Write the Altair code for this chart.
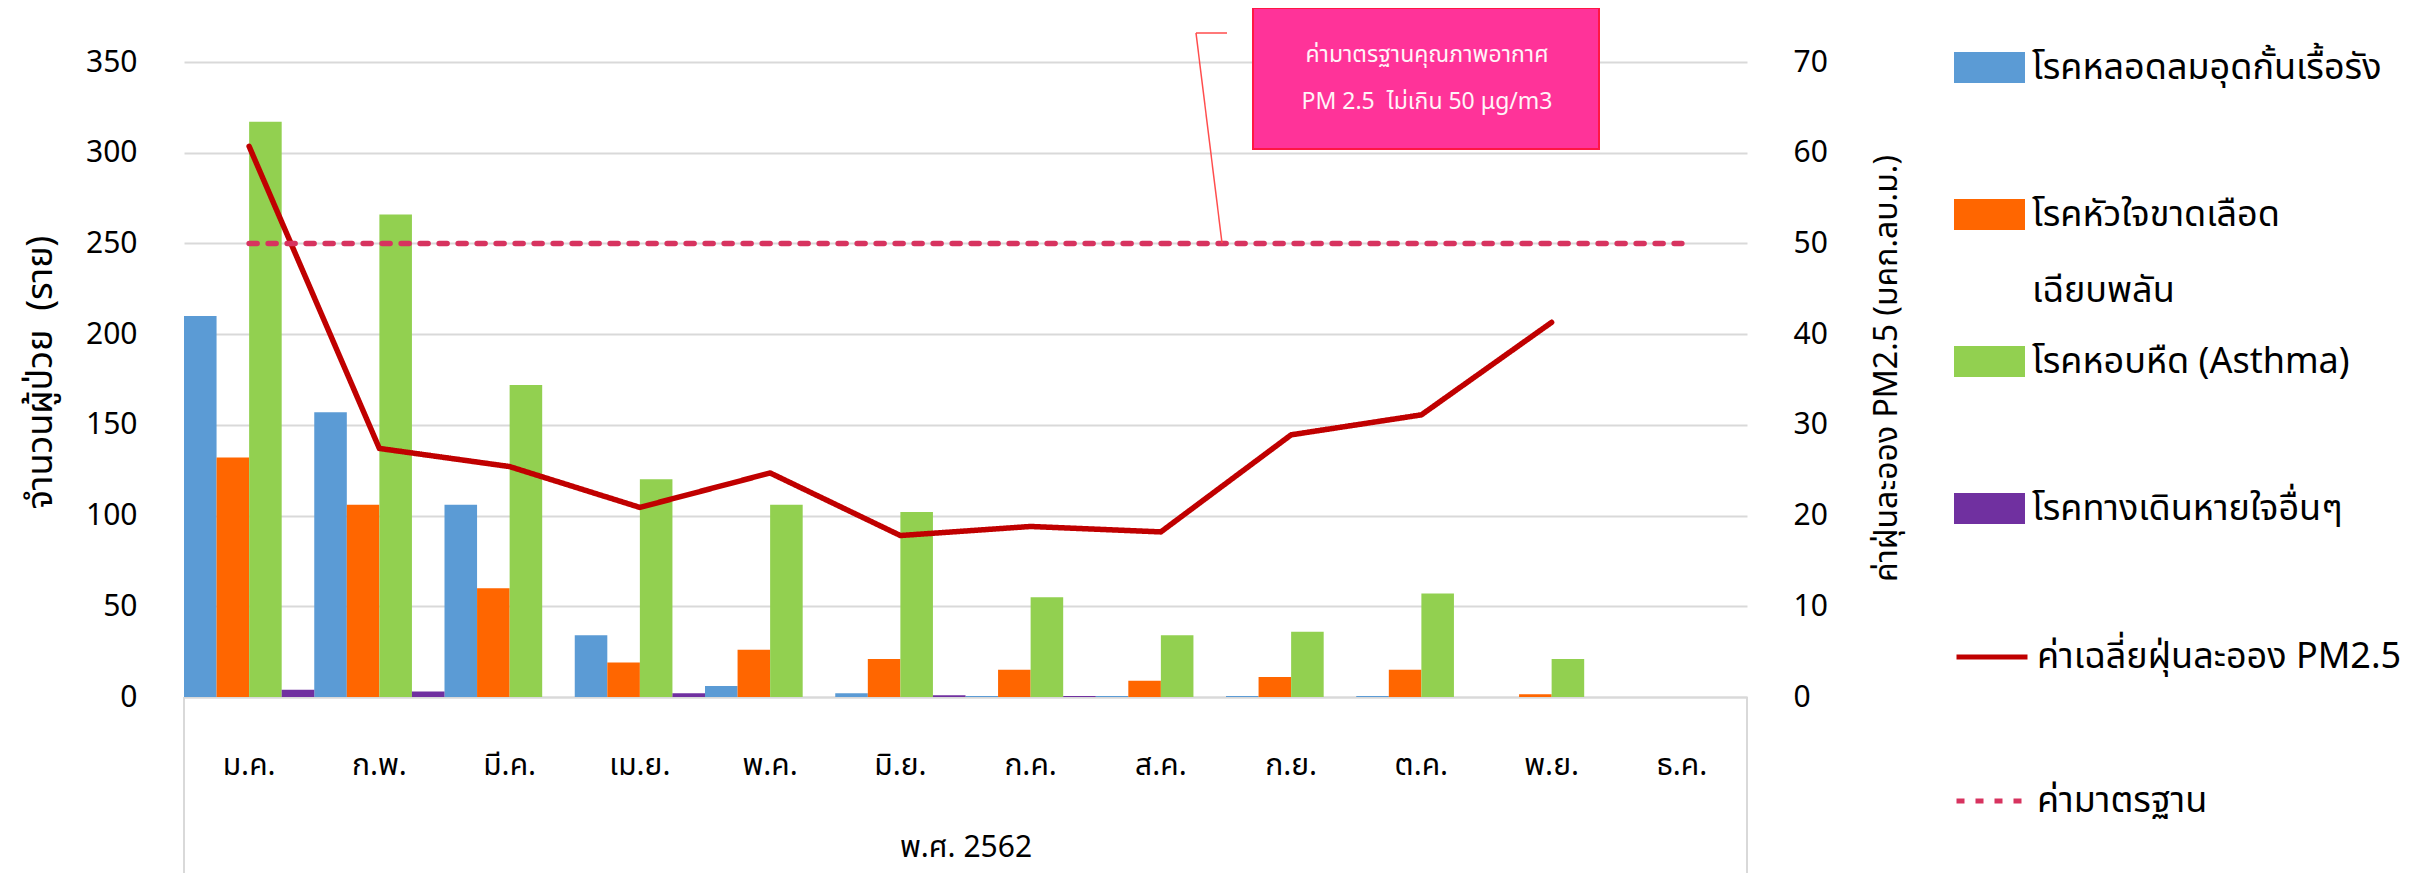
import altair as alt
import pandas as pd

# ---------------- data ----------------
months = ["ม.ค.", "ก.พ.", "มี.ค.", "เม.ย.", "พ.ค.", "มิ.ย.", "ก.ค.", "ส.ค.", "ก.ย.", "ต.ค.", "พ.ย.", "ธ.ค."]
series_names = ["โรคหลอดลมอุดกั้นเรื้อรัง", "โรคหัวใจขาดเลือดเฉียบพลัน", "โรคหอบหืด (Asthma)", "โรคทางเดินหายใจอื่นๆ"]
copd = [210, 157, 106, 34, 6, 2, 0.5, 0.5, 0.5, 0.5, 0, 0]
ihd = [132, 106, 60, 19, 26, 21, 15, 9, 11, 15, 1.5, 0]
asthma = [317, 266, 172, 120, 106, 102, 55, 34, 36, 57, 21, 0]
other = [4, 3, 0, 2, 0, 1, 0.5, 0, 0, 0, 0, 0]

pm_name = "ค่าเฉลี่ยฝุ่นละออง PM2.5"
std_name = "ค่ามาตรฐาน"
pm_months = ["ม.ค.", "ก.พ.", "มี.ค.", "เม.ย.", "พ.ค.", "มิ.ย.", "ก.ค.", "ส.ค.", "ก.ย.", "ต.ค.", "พ.ย."]
pm25 = [60.7, 27.4, 25.4, 20.9, 24.7, 17.8, 18.8, 18.2, 28.9, 31.1, 41.3]
standard = [50, 50, 50, 50, 50, 50, 50, 50, 50, 50, 50, 50]

left_ticks = [0, 50, 100, 150, 200, 250, 300, 350]
right_ticks = [0, 10, 20, 30, 40, 50, 60, 70]

bar_colors = ["#5B9BD5", "#FF6600", "#92D050", "#7030A0"]
line_colors = ["#C00000", "#D7335F"]

note_line1 = "ค่ามาตรฐานคุณภาพอากาศ"
note_line2 = "PM 2.5\u00a0\u00a0ไม่เกิน 50 μg/m3"
left_title = "จำนวนผู้ป่วย\u00a0\u00a0(ราย)"
right_title = "ค่าฝุ่นละออง PM2.5 (มคก.ลบ.ม.)"
x_title = "พ.ศ. 2562"

# ---------------- tables ----------------
bar_rows = []
for s, vals in zip(series_names, [copd, ihd, asthma, other]):
    for m, v in zip(months, vals):
        bar_rows.append({"month": m, "series": s, "value": v})
bars_df = pd.DataFrame(bar_rows)

line_rows = [{"month": m, "name": pm_name, "value": v} for m, v in zip(pm_months, pm25)]
line_rows += [{"month": m, "name": std_name, "value": v} for m, v in zip(months, standard)]
lines_df = pd.DataFrame(line_rows)

FONT = "Noto Sans Thai, Noto Sans, sans-serif"
W, H = 1563, 635
GRID = "#D9D9D9"
LEG_FS = 36

x_enc = alt.X(
    "month:N", sort=months,
    scale=alt.Scale(paddingInner=0, paddingOuter=0),
    axis=alt.Axis(
        title=x_title, labelAngle=0, labelFontSize=30, labelPadding=53,
        labelBaseline="top", ticks=False, tickSize=0,
        domainColor=GRID, domainWidth=2,
        titleFontSize=30, titleFontWeight="normal",
        titleX=W / 2, titleY=150, titleBaseline="middle",
    ),
)

bars = alt.Chart(bars_df).mark_bar().encode(
    x=x_enc,
    xOffset=alt.XOffset("series:N", sort=series_names,
                        scale=alt.Scale(paddingInner=0, paddingOuter=0)),
    y=alt.Y(
        "value:Q", scale=alt.Scale(domain=[0, 350], nice=False),
        axis=alt.Axis(
            values=left_ticks, title=left_title, grid=True,
            gridColor=GRID, gridWidth=2, domain=False, ticks=False, tickSize=0,
            labelPadding=47, labelFontSize=30, titleFontSize=36,
            titleFontWeight="normal", titleX=-144, titleY=310,
            titleAngle=270, titleBaseline="middle", titleAlign="center",
        ),
    ),
    fill=alt.Fill(
        "series:N",
        scale=alt.Scale(domain=series_names, range=bar_colors),
        legend=alt.Legend(
            title=None, orient="none", legendX=1770, legendY=-30,
            symbolType="M-1,-0.44L1,-0.44L1,0.44L-1,0.44Z", symbolSize=5041,
            symbolStrokeWidth=0, labelFontSize=LEG_FS, labelLimit=800,
            labelOffset=7, rowPadding=17, gridAlign="all", padding=0,
            labelExpr="datum.label == 'โรคหัวใจขาดเลือดเฉียบพลัน' ? "
                      "['โรคหัวใจขาดเลือด', '\u2800', 'เฉียบพลัน'] : datum.label",
        ),
    ),
)

line_legend = alt.Legend(
    title=None, orient="none", legendX=1770, legendY=557,
    symbolType="stroke", symbolSize=5041, symbolStrokeWidth=5,
    labelFontSize=LEG_FS, labelLimit=800, labelOffset=7, rowPadding=88,
    padding=0,
)

lines = alt.Chart(lines_df).mark_line(strokeWidth=5.5, strokeCap="round", strokeJoin="round").encode(
    x=alt.X("month:N", sort=months),
    y=alt.Y(
        "value:Q", scale=alt.Scale(domain=[0, 70], nice=False),
        axis=alt.Axis(
            orient="right", values=right_ticks, grid=False, domain=False,
            ticks=False, tickSize=0, labelPadding=46, labelFontSize=30,
            title=right_title, titleFontSize=32,
            titleFontWeight="normal", titleX=139, titleY=306, titleAngle=270,
            titleBaseline="middle", titleAlign="center",
        ),
    ),
    stroke=alt.Stroke("name:N", scale=alt.Scale(domain=[pm_name, std_name], range=line_colors),
                      legend=line_legend),
    strokeDash=alt.StrokeDash("name:N", scale=alt.Scale(domain=[pm_name, std_name],
                                                        range=[[1, 0], [8, 11]]),
                              legend=line_legend),
)

one = alt.Data(values=[{"k": 0}])

note_box = alt.Chart(one).mark_rect(fill="#FF3399", stroke="#FF1744", strokeWidth=2).encode(
    x=alt.value(1069), x2=alt.value(1415), y=alt.value(-54), y2=alt.value(87))
note_t1 = alt.Chart(one).mark_text(text=note_line1, color="#FFF4F8", fontSize=23,
                                    align="center", baseline="middle").encode(
    x=alt.value(1243), y=alt.value(-7))
note_t2 = alt.Chart(one).mark_text(text=note_line2, color="#FFF4F8", fontSize=23,
                                    align="center", baseline="middle").encode(
    x=alt.value(1243), y=alt.value(40))
hook = alt.Chart(one).mark_rule(color="#FF4D4D", strokeWidth=1.5).encode(
    x=alt.value(1012), x2=alt.value(1043), y=alt.value(-29), y2=alt.value(-29))
leader = alt.Chart(one).mark_rule(color="#FF4D4D", strokeWidth=1.5).encode(
    x=alt.value(1012), x2=alt.value(1038), y=alt.value(-29), y2=alt.value(181))

frame_l = alt.Chart(one).mark_rule(color=GRID, strokeWidth=2).encode(
    x=alt.value(0), y=alt.value(H), y2=alt.value(H + 176))
frame_r = alt.Chart(one).mark_rule(color=GRID, strokeWidth=2).encode(
    x=alt.value(W), y=alt.value(H), y2=alt.value(H + 176))

chart = alt.layer(
    bars, lines, note_box, note_t1, note_t2, hook, leader, frame_l, frame_r
).resolve_scale(
    y="independent", fill="independent", stroke="independent", strokeDash="independent"
).properties(
    width=W, height=H,
    padding={"left": 176, "top": 54, "right": 673, "bottom": 176},
    autosize=alt.AutoSizeParams(type="none"),
).configure(
    font=FONT,
).configure_view(
    stroke=None,
).configure_axis(
    labelColor="black", titleColor="black", labelFont=FONT, titleFont=FONT,
).configure_legend(
    labelColor="black", labelFont=FONT,
)

chart.save("out.html", embed_options={"renderer": "svg", "actions": False})
